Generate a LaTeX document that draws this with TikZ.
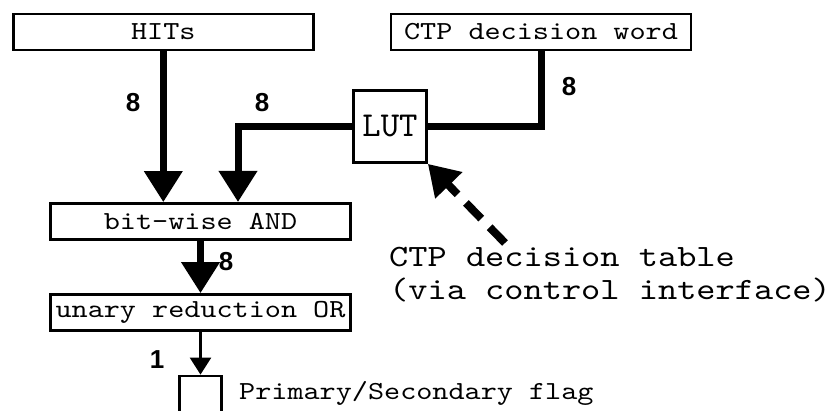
\documentclass[tikz,border=0pt]{standalone}
\usepackage{fontspec}
\usetikzlibrary{arrows.meta}
\newfontfamily\blockfont[FakeStretch=1.18]{lmmono10-regular.otf}
\newfontfamily\lutfont{lmmono10-regular.otf}
\newfontfamily\bitfont{Liberation Sans}

\begin{document}
\begin{tikzpicture}[x=1pt,y=-1pt]
    \tikzstyle{blk}=[draw,line width=2.8pt,inner sep=0pt,minimum width=300pt,minimum height=36pt,font=\blockfont\fontsize{26}{26}\selectfont]
    \tikzstyle{bus}=[line width=7pt,-{Triangle[width=37pt,length=31pt]}]
    \tikzstyle{wire}=[line width=2.5pt,-{Triangle[width=21pt,length=17pt]}]
    \tikzstyle{bits}=[inner sep=0pt,font=\bitfont\bfseries\fontsize{26}{26}\selectfont]
    \tikzstyle{note}=[inner sep=0pt,anchor=base west,align=left,font=\blockfont\fontsize{31}{33}\selectfont]

    \useasboundingbox (0,0) rectangle (830,411);
    \clip (0,0) rectangle (830,411);

    \node[blk] (HITs) at (163.3,32)  {HITs};
    \node[blk] (word) at (541,32)    {CTP decision word};
    \node[blk,minimum width=73pt,minimum height=72pt,font=\lutfont\fontsize{35}{35}\selectfont] (LUT) at (390,126.5) {LUT};
    \node[blk] (AND)  at (200.5,221.5) {bit-wise AND};
    \node[blk] (OR)   at (200.5,312.5) {unary reduction OR};
    \node[blk,minimum width=42pt,minimum height=80pt] (flag) at (200.5,416) {};
    \coordinate (andin)  at (238,202);
    \coordinate (tblend) at (505,243);

    \node[bits] (n1) at (133,103) {8};
    \node[bits] (n2) at (262,103) {8};
    \node[bits] (n3) at (569,87)  {8};
    \node[bits] (n4) at (226,262) {8};
    \node[bits] (n5) at (157,360) {1};

    \node[note] (tbl)  at (389,300) {CTP decision table\\(via control interface)};
    \node[note,font=\blockfont\fontsize{26}{26}\selectfont] (flagtxt) at (239,400) {Primary/Secondary flag};

    \draw[bus]  (HITs.south) -- (HITs.south |- AND.north);
    \draw[bus]  (LUT.west) -| (andin);
    \draw[line width=7pt] (word.south) |- (LUT.east);
    \draw[bus]  (AND.south) -- (OR.north);
    \draw[wire] (OR.south) -- (flag.north);
    \draw[line width=8pt,dash pattern=on 22pt off 12pt,-{Triangle[width=36pt,length=30pt]}] (tblend) -- (LUT.south east);
\end{tikzpicture}
\end{document}
